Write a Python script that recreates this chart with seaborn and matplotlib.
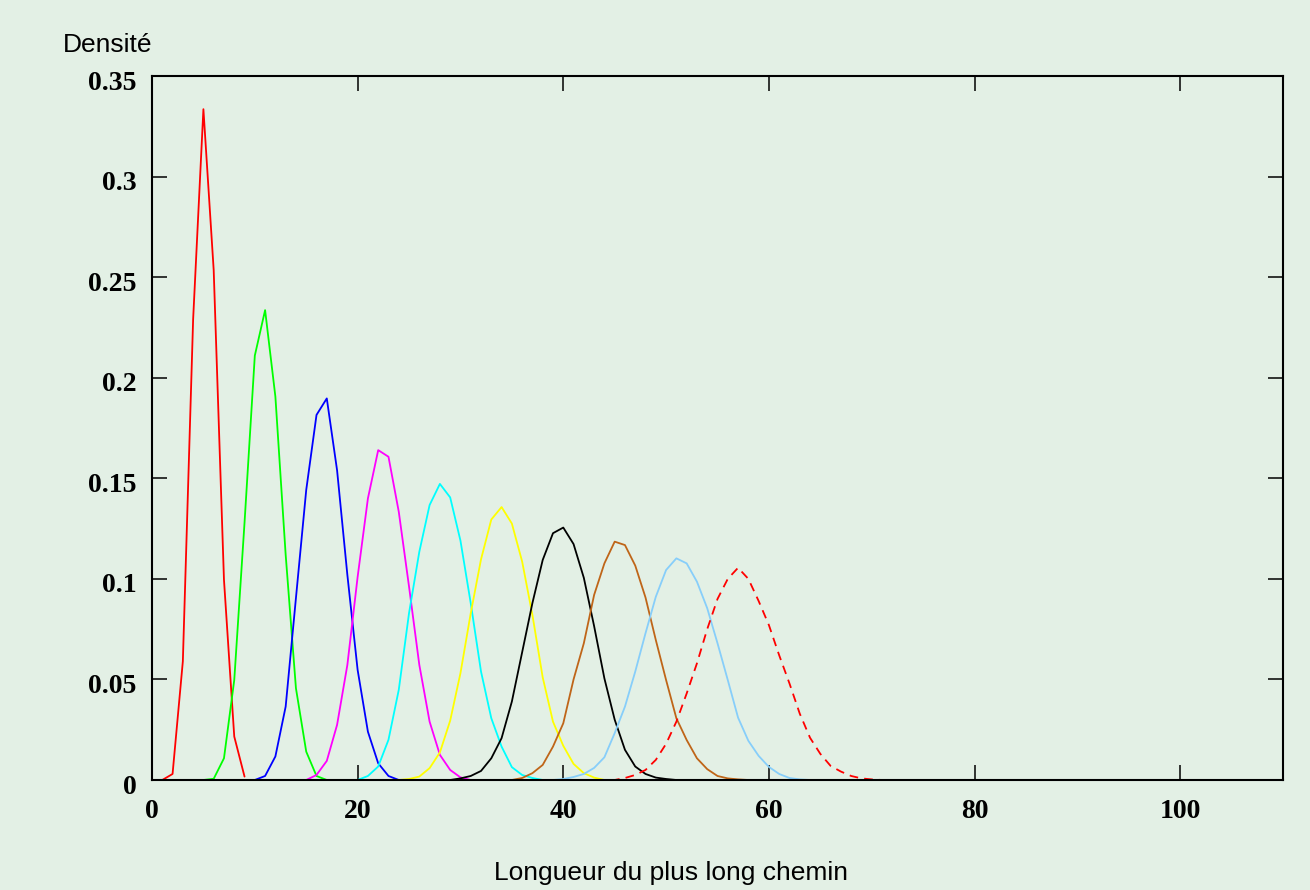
import numpy as np
import pandas as pd
import matplotlib
matplotlib.use("Agg")
import matplotlib.pyplot as plt
import matplotlib.transforms as mtransforms
import seaborn as sns

# ---- data ----
x_rouge0 = 1
y_rouge = [0, 0.003, 0.059, 0.229, 0.3335, 0.2535, 0.0995, 0.0216, 0.0017]

x_vert0 = 5
y_vert = [0, 0.0006, 0.0108, 0.0497, 0.128, 0.211, 0.2336, 0.1906, 0.112,
          0.0456, 0.0141, 0.002, 0]

x_bleu0 = 10
y_bleu = [0, 0.002, 0.0117, 0.0365, 0.0905, 0.1442, 0.1815, 0.1897, 0.154,
          0.102, 0.0547, 0.024, 0.0083, 0.002, 0]

x_magenta0 = 15
y_magenta = [0, 0.0025, 0.0095, 0.0274, 0.0572, 0.101, 0.14, 0.164, 0.1607,
             0.1334, 0.0961, 0.0572, 0.029, 0.0125, 0.005, 0.0013, 0]

x_cyan0 = 20
y_cyan = [0, 0.002, 0.0067, 0.02, 0.0448, 0.083, 0.1135, 0.1367, 0.1472,
          0.1405, 0.119, 0.0879, 0.0539, 0.0307, 0.0166, 0.0064, 0.0025,
          0.001, 0]

x_jaune0 = 24
y_jaune = [0, 0.0005, 0.0017, 0.0059, 0.0137, 0.0295, 0.0531, 0.0829, 0.1097,
           0.1295, 0.1357, 0.1275, 0.1086, 0.082, 0.051, 0.029, 0.017, 0.008,
           0.0034, 0.0012, 0]

x_noir0 = 29
y_noir = [0, 0.0008, 0.002, 0.0045, 0.0108, 0.0208, 0.039, 0.0635, 0.088,
          0.1094, 0.1227, 0.1255, 0.1173, 0.1005, 0.0765, 0.0505, 0.03, 0.015,
          0.0067, 0.003, 0.0012, 0.0005, 0]

x_brun0 = 35
y_brun = [0, 0.001, 0.0034, 0.0075, 0.0166, 0.0282, 0.05, 0.068, 0.092,
          0.1077, 0.1185, 0.1168, 0.1066, 0.0907, 0.0696, 0.0497, 0.0307,
          0.0199, 0.0108, 0.0054, 0.002, 0.0008, 0.0003, 0]

x_bleuclair0 = 39
y_bleuclair = [0, 0.0005, 0.0015, 0.003, 0.006, 0.0113, 0.0233, 0.0365,
               0.0539, 0.073, 0.0911, 0.1044, 0.1102, 0.1077, 0.0986, 0.0854,
               0.068, 0.0497, 0.031, 0.0195, 0.012, 0.0065, 0.003, 0.001,
               0.0003, 0]

x_pointille0 = 0
y_pointille = ([0] * 46 +
               [0.001, 0.0025, 0.005, 0.01, 0.018, 0.029, 0.043, 0.058, 0.075,
                0.09, 0.1, 0.1055, 0.1, 0.089, 0.077, 0.062, 0.048, 0.033,
                0.021, 0.013, 0.007, 0.0042, 0.002, 0.0008, 0.0003] +
               [0] * 40)

x_ticks = [0, 20, 40, 60, 80, 100]
y_ticks = [0, 0.05, 0.1, 0.15, 0.2, 0.25, 0.3, 0.35]
y_ticklabels = ["0", "0.05", "0.1", "0.15", "0.2", "0.25", "0.3", "0.35"]
xlabel = "Longueur du plus long chemin"
ylabel = "Densité"

series = [
    (x_rouge0, y_rouge, "#ff0000", "-"),
    (x_vert0, y_vert, "#00ff00", "-"),
    (x_bleu0, y_bleu, "#0000ff", "-"),
    (x_magenta0, y_magenta, "#ff00ff", "-"),
    (x_cyan0, y_cyan, "#00ffff", "-"),
    (x_jaune0, y_jaune, "#ffff00", "-"),
    (x_noir0, y_noir, "#000000", "-"),
    (x_brun0, y_brun, "#bf6518", "-"),
    (x_bleuclair0, y_bleuclair, "#87cefa", "-"),
    (x_pointille0, y_pointille, "#ff0000", (0, (4.8, 3.4))),
]

# ---- style ----
bg = "#e3f0e5"
sns.set_style("ticks")
plt.rcParams["font.family"] = ["Liberation Sans", "DejaVu Sans"]

fig = plt.figure(figsize=(13.1, 8.9), dpi=100, facecolor=bg)
ax = fig.add_axes([152 / 1310, 1 - 780 / 890, (1283 - 152) / 1310, (780 - 76) / 890])
ax.set_facecolor(bg)

for x0, ys, col, ls in series:
    df = pd.DataFrame({"x": np.arange(x0, x0 + len(ys)), "y": ys})
    sns.lineplot(data=df, x="x", y="y", ax=ax, color=col, linewidth=1.3,
                 linestyle=ls, estimator=None, sort=False)

ax.set_xlim(0, 110)
ax.set_ylim(0, 0.35)
ax.set_xticks(x_ticks)
ax.set_xticklabels([str(t) for t in x_ticks])
ax.set_yticks(y_ticks)
ax.set_yticklabels(y_ticklabels)
ax.set_xlabel("")
ax.set_ylabel("")

for sp in ax.spines.values():
    sp.set_visible(True)
    sp.set_color("black")
    sp.set_linewidth(1.5)

ax.tick_params(axis="both", which="major", direction="in", length=11, width=1.1,
               color="black", top=True, right=True)
ax.tick_params(axis="x", pad=14)
ax.tick_params(axis="y", pad=11)
for lab in ax.get_xticklabels() + ax.get_yticklabels():
    lab.set_fontfamily(["Liberation Serif", "DejaVu Serif"])
    lab.set_fontweight("bold")
    lab.set_fontsize(20)
    lab.set_color("black")

# y tick labels sit slightly below their ticks in the reference
offset = mtransforms.ScaledTranslation(0, -4 / 100, fig.dpi_scale_trans)
for lab in ax.get_yticklabels():
    lab.set_transform(lab.get_transform() + offset)

fig.text(108 / 1310, 1 - 45 / 890, ylabel, ha="center", va="center",
         fontsize=19, color="black")
fig.text(671 / 1310, 1 - 873 / 890, xlabel, ha="center", va="center",
         fontsize=19, color="black")

fig.savefig("out.png", dpi=100, facecolor=bg)
